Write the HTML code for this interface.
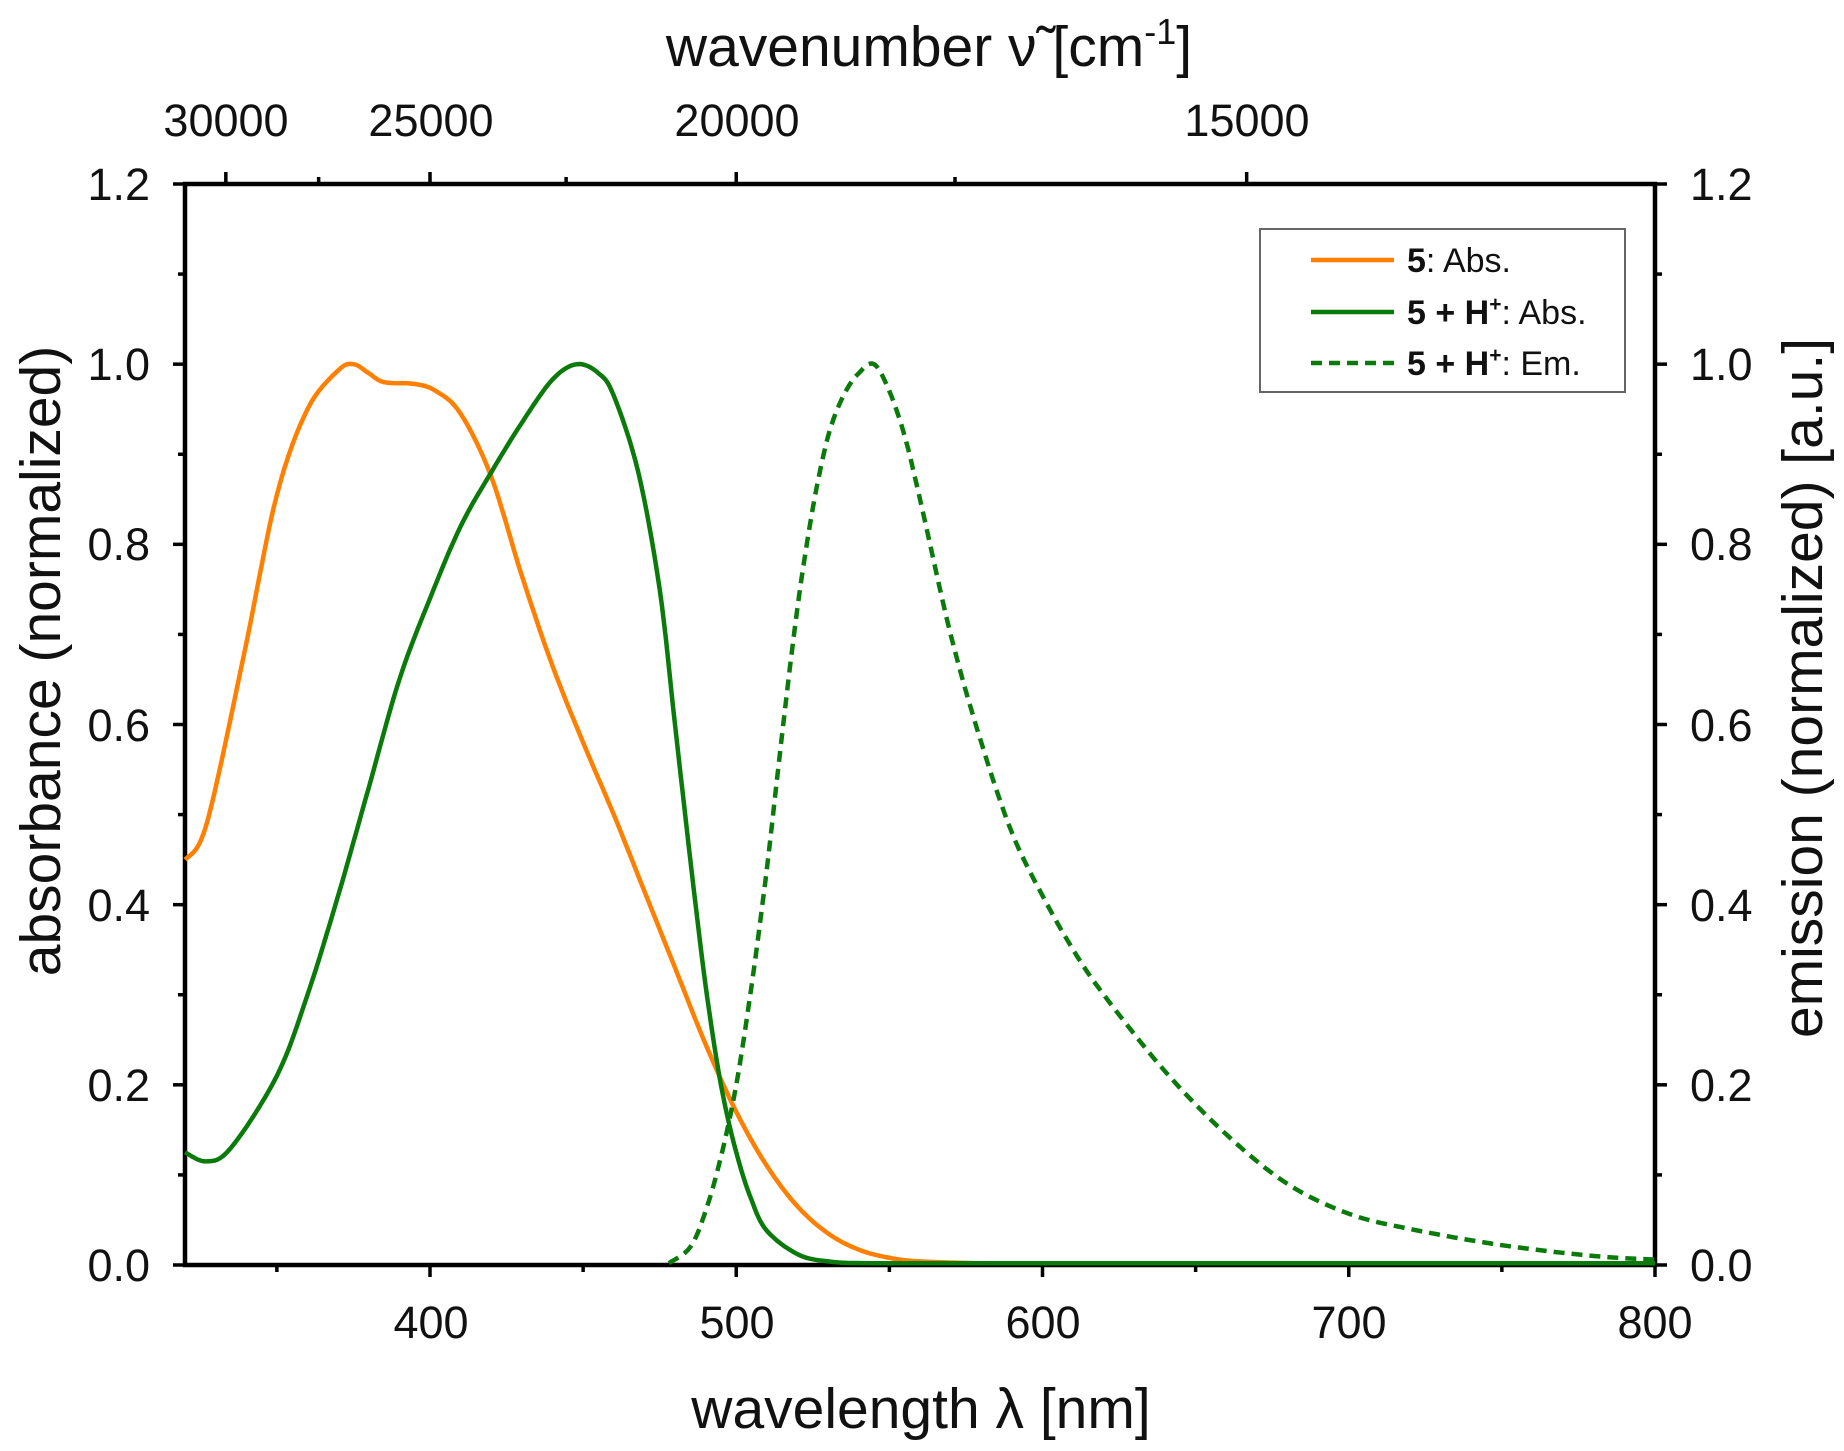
<!DOCTYPE html>
<html><head><meta charset="utf-8"><style>
html,body{margin:0;padding:0;background:#fff;}
svg{display:block;font-family:"Liberation Sans",sans-serif;}
</style></head><body>
<svg id="s" width="1844" height="1451" viewBox="0 0 1844 1451" xmlns="http://www.w3.org/2000/svg">
<rect width="1844" height="1451" fill="#fff"/>
<g id="ticks" stroke="#000" stroke-width="3.5"></g>
<rect x="185" y="184" width="1470" height="1081" fill="none" stroke="#000" stroke-width="4.5"/>
<g font-size="45" fill="#111">
<g text-anchor="end">
<text x="150" y="1281">0.0</text><text x="150" y="1101">0.2</text><text x="150" y="921">0.4</text>
<text x="150" y="741">0.6</text><text x="150" y="560">0.8</text><text x="150" y="380">1.0</text><text x="150" y="200">1.2</text>
</g>
<g text-anchor="start">
<text x="1690" y="1281">0.0</text><text x="1690" y="1101">0.2</text><text x="1690" y="921">0.4</text>
<text x="1690" y="741">0.6</text><text x="1690" y="560">0.8</text><text x="1690" y="380">1.0</text><text x="1690" y="200">1.2</text>
</g>
<g text-anchor="middle">
<text x="431" y="1338">400</text><text x="737" y="1338">500</text><text x="1043" y="1338">600</text>
<text x="1349" y="1338">700</text><text x="1655" y="1338">800</text>
<text x="226" y="136">30000</text><text x="431" y="136">25000</text><text x="737" y="136">20000</text><text x="1247" y="136">15000</text>
</g>
</g>
<g font-size="57" fill="#111" text-anchor="middle">
<text x="921" y="1428">wavelength λ [nm]</text>
<text x="929" y="66">wavenumber ν̃ [cm<tspan font-size="36" dy="-22">-1</tspan><tspan dy="22">]</tspan></text>
<text transform="translate(60,661) rotate(-90)">absorbance (normalized)</text>
<text transform="translate(1822,688) rotate(-90)">emission (normalized) [a.u.]</text>
</g>
<g id="curves" fill="none" stroke-width="4.5" stroke-linejoin="round"></g>
<rect x="1260" y="229" width="365" height="163" fill="#fff" stroke="#666" stroke-width="2"/>
<line x1="1311" y1="260" x2="1394" y2="260" stroke="#ff8000" stroke-width="4.5"/>
<line x1="1311" y1="312" x2="1394" y2="312" stroke="#0a7a0a" stroke-width="4.5"/>
<line x1="1311" y1="363" x2="1394" y2="363" stroke="#0a7a0a" stroke-width="4.5" stroke-dasharray="11,7"/>
<g font-size="34" fill="#111">
<text x="1407" y="272"><tspan font-weight="bold">5</tspan>: Abs.</text>
<text x="1407" y="324"><tspan font-weight="bold">5 + H<tspan font-size="21" dy="-13">+</tspan></tspan><tspan dy="13">: Abs.</tspan></text>
<text x="1407" y="375"><tspan font-weight="bold">5 + H<tspan font-size="21" dy="-13">+</tspan></tspan><tspan dy="13">: Em.</tspan></text>
</g>
</svg>
<script>
var X0=185,X1=1655,Y0=1265,Y1=184;
function px(l){return X0+(l-320)/480*(X1-X0);}
function py(v){return Y0-v/1.2*(Y0-Y1);}
var NS="http://www.w3.org/2000/svg";
var tg=document.getElementById("ticks");
function ln(x1,y1,x2,y2){var e=document.createElementNS(NS,"line");e.setAttribute("x1",x1);e.setAttribute("y1",y1);e.setAttribute("x2",x2);e.setAttribute("y2",y2);tg.appendChild(e);}
for(var i=0;i<=12;i++){var y=py(i*0.1),L=(i%2==0)?12:7;ln(X0-L,y,X0,y);ln(X1,y,X1+L,y);}
for(var l=350;l<=800;l+=50){var x=px(l),L=(l%100==0)?12:7;ln(x,Y0,x,Y0+L);}
[[30000,12],[27500,7],[25000,12],[22500,7],[20000,12],[17500,7],[15000,12]].forEach(function(t){var x=px(1e7/t[0]);ln(x,Y1-t[1],x,Y1);});
function spline(pts){var d="";for(var i=0;i<pts.length-1;i++){var p0=pts[Math.max(0,i-1)],p1=pts[i],p2=pts[i+1],p3=pts[Math.min(pts.length-1,i+2)];
for(var k=0;k<=8;k++){var t=k/8,t2=t*t,t3=t2*t;
var f=function(a,b,c,e){return 0.5*((2*b)+(-a+c)*t+(2*a-5*b+4*c-e)*t2+(-a+3*b-3*c+e)*t3);};
var l=f(p0[0],p1[0],p2[0],p3[0]),v=f(p0[1],p1[1],p2[1],p3[1]);if(v<0.002)v=0.002;
d+=(d?"L":"M")+px(l).toFixed(1)+","+py(v).toFixed(1);}}return d;}
var O=[[320,0.45],[325,0.47],[330,0.53],[340,0.69],[350,0.855],[360,0.95],[370,0.993],[375,1.0],[380,0.99],[385,0.98],[395,0.978],[402,0.97],[410,0.945],[420,0.875],[430,0.765],[440,0.665],[450,0.58],[460,0.50],[470,0.415],[480,0.33],[490,0.245],[500,0.17],[510,0.11],[520,0.065],[530,0.035],[540,0.017],[550,0.008],[560,0.004],[580,0.002],[600,0.002],[800,0.002]];
var G=[[320,0.125],[327,0.115],[335,0.13],[350,0.21],[360,0.3],[370,0.41],[380,0.53],[390,0.65],[400,0.74],[410,0.82],[420,0.88],[430,0.935],[440,0.983],[448,1.0],[455,0.99],[460,0.965],[468,0.88],[475,0.75],[480,0.6],[485,0.45],[490,0.31],[495,0.2],[500,0.125],[505,0.072],[510,0.038],[520,0.012],[530,0.004],[545,0.002],[600,0.002],[800,0.002]];
var E=[[478,0.002],[485,0.02],[490,0.06],[495,0.12],[500,0.2],[505,0.31],[510,0.44],[515,0.59],[520,0.73],[525,0.84],[530,0.92],[535,0.965],[540,0.99],[545,1.0],[550,0.97],[555,0.92],[560,0.85],[570,0.7],[580,0.58],[590,0.48],[600,0.41],[610,0.35],[620,0.3],[640,0.215],[660,0.145],[680,0.09],[700,0.057],[720,0.04],[750,0.022],[780,0.01],[800,0.006]];
var cg=document.getElementById("curves");
[[O,"#ff8000",""],[G,"#0a7a0a",""],[E,"#0a7a0a","11,7"]].forEach(function(c){var p=document.createElementNS(NS,"path");p.setAttribute("d",spline(c[0]));p.setAttribute("stroke",c[1]);if(c[2])p.setAttribute("stroke-dasharray",c[2]);cg.appendChild(p);});
</script>
</body></html>
